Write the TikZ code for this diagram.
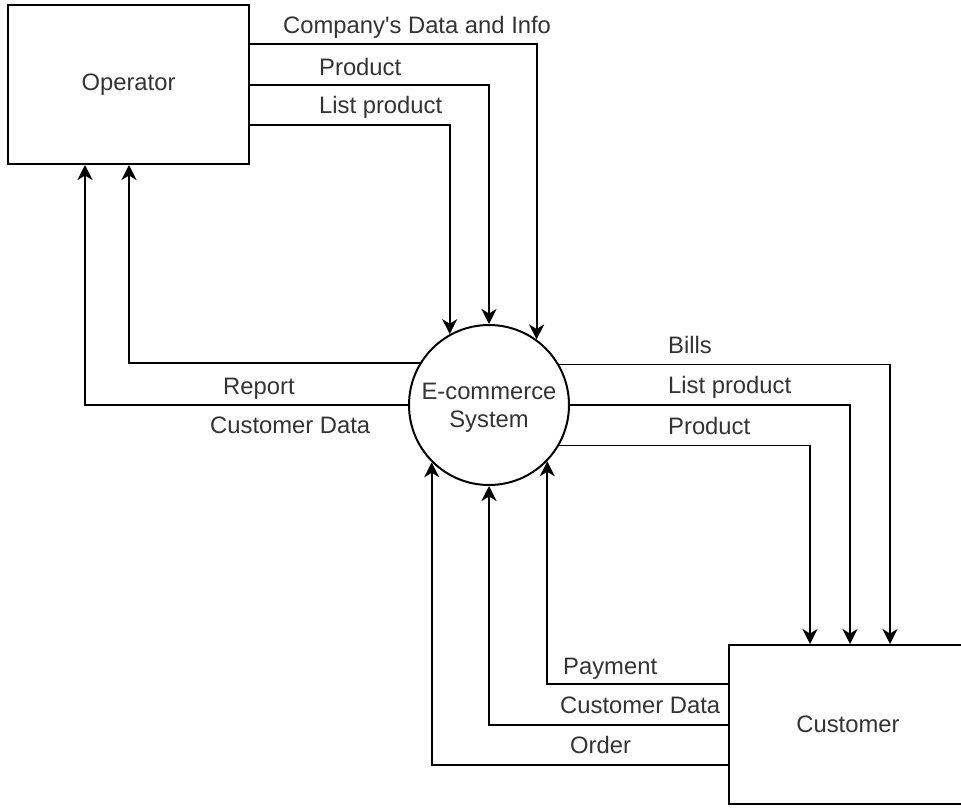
\documentclass[tikz,border=0pt]{standalone}
\usepackage{fontspec}
\setmainfont{Liberation Sans}[Ligatures=TeXOff]
\usetikzlibrary{arrows.meta}
\begin{document}
\begin{tikzpicture}[x=1pt,y=-1pt,
  every node/.style={font=\fontsize{23.8}{28}\selectfont, text=black!80},
  entity/.style={draw=black, line width=2pt, minimum height=159pt, inner sep=0pt},
  process/.style={draw=black, line width=2pt, circle, minimum size=160pt, inner sep=0pt, align=center, text depth=0pt},
  flow/.style={draw=black, line width=1.8pt, -{Stealth[length=15pt,width=15pt,inset=4.5pt]}},
  lbl/.style={anchor=base west, inner sep=0pt}
]
\useasboundingbox (0,0) rectangle (961,807);

% external entities and the central process
\node[entity, minimum width=241pt] (op) at (128.5,84.5) {Operator};
\node[entity, minimum width=238pt] (cu) at (848,724.5) {Customer};
\node[process] (sys) at (489,405) {E-commerce\\System};

% operator -> system
\draw[flow] (op.east |- 0,44)  -| (sys.54.9);
\draw[flow] (op.east |- 0,85)  -| (sys.north);
\draw[flow] (op.east |- 0,125) -| (sys.119.2);
\node[lbl] (l1) at (283,33)  {Company's Data and Info};
\node[lbl] (l2) at (319,75)  {Product};
\node[lbl] (l3) at (319,113) {List product};

% system -> operator
\draw[flow] (sys.149.2) -| (op.south -| 129,0);
\draw[flow] (sys.west)  -| (op.south -| 85,0);
\node[lbl] (l4) at (223,394) {Report};
\node[lbl] (l5) at (210,433) {Customer Data};

% system -> customer
\draw[flow] (sys.30.8) -| (cu.north -| 890,0);
\draw[flow] (sys.east) -| (cu.north -| 850,0);
\draw[flow] (sys.-30)  -| (cu.north -| 810,0);
\node[lbl] (l6) at (668,353) {Bills};
\node[lbl] (l7) at (668,393) {List product};
\node[lbl] (l8) at (668,434) {Product};

% customer -> system
\draw[flow] (cu.west |- 0,684) -| (sys.-44.6);
\draw[flow] (cu.west |- 0,725) -| (sys.south);
\draw[flow] (cu.west |- 0,765) -| (sys.225.6);
\node[lbl] (l9)  at (563,674) {Payment};
\node[lbl] (l10) at (560,713) {Customer Data};
\node[lbl] (l11) at (570,753) {Order};
\end{tikzpicture}
\end{document}
